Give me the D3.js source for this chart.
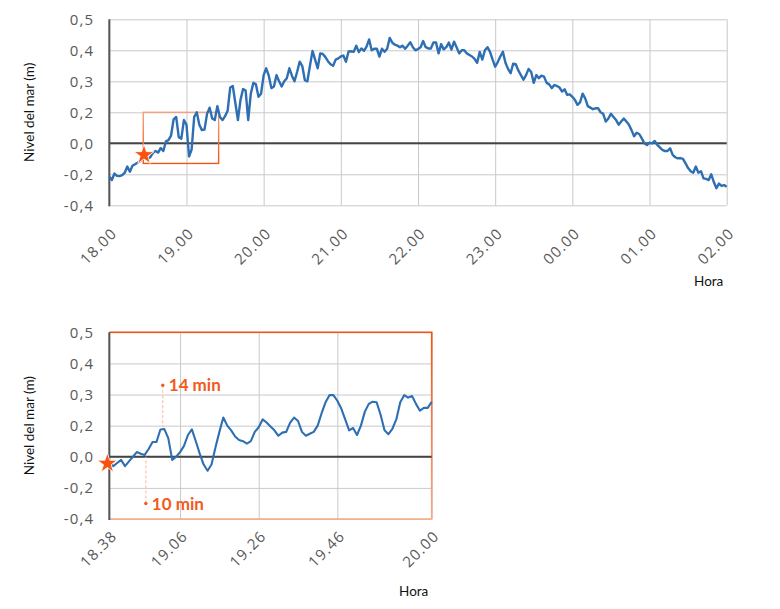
<!DOCTYPE html>
<html>
<head>
<meta charset="utf-8">
<script src="https://cdn.jsdelivr.net/npm/d3@7"></script>
<style>
  body { margin: 0; background: #fff; }
  svg { display: block; font-family: Lato, "Open Sans", sans-serif; }
  .grid line { stroke: #c9c9c9; stroke-width: 1; }
  .grid path { display: none; }
  .ylab text, .xlab text { font-family: "Open Sans", Lato, sans-serif; font-size: 15px; fill: #595959; letter-spacing: 1.2px; }
  .title { font-size: 13.5px; fill: #111; }
  .note { font-size: 17px; font-weight: 700; fill: #f25a1a; }
</style>
</head>
<body>
<svg id="chart" width="780" height="609"></svg>
<script>
// nivel del mar cada 2 minutos desde las 18.00 (gráfico general)
const topLevel = [
  -0.215, -0.237, -0.195, -0.21, -0.212, -0.205, -0.19, -0.15, -0.183, -0.145,
  -0.135, -0.125, -0.114, -0.09, -0.08, -0.10, -0.088, -0.06, -0.05,
  -0.06, -0.03, -0.05, 0.012, 0.02, 0.05, 0.155, 0.17, 0.04, 0.03,
  0.15, 0.12, -0.085, -0.04, 0.17, 0.2, 0.12, 0.085, 0.088, 0.19,
  0.215, 0.16, 0.15, 0.22, 0.17, 0.15, 0.175, 0.205, 0.28, 0.285,
  0.23, 0.15, 0.24, 0.275, 0.27, 0.15, 0.26, 0.295, 0.29, 0.25, 0.26, 0.32,
  0.342, 0.318, 0.278, 0.283, 0.32, 0.30, 0.283, 0.30, 0.31, 0.342,
  0.318, 0.30, 0.33, 0.363, 0.35, 0.304, 0.30, 0.35, 0.398, 0.37,
  0.342, 0.39, 0.388, 0.378, 0.365, 0.355, 0.35, 0.37, 0.374, 0.38,
  0.383, 0.363, 0.396, 0.397, 0.395, 0.415, 0.394, 0.406, 0.398, 0.412,
  0.435, 0.40, 0.405, 0.405, 0.38, 0.405, 0.395, 0.405, 0.44, 0.425,
  0.418, 0.415, 0.41, 0.415, 0.405, 0.415, 0.426, 0.41, 0.40, 0.404,
  0.41, 0.43, 0.41, 0.406, 0.406, 0.425, 0.425, 0.39, 0.42, 0.403,
  0.41, 0.425, 0.402, 0.428, 0.41, 0.39, 0.40, 0.40, 0.39, 0.385,
  0.38, 0.372, 0.36, 0.395, 0.37, 0.40, 0.41, 0.395, 0.37, 0.347,
  0.362, 0.38, 0.395, 0.36, 0.34, 0.326, 0.357, 0.355, 0.335, 0.32,
  0.305, 0.32, 0.34, 0.33, 0.295, 0.32, 0.31, 0.318, 0.315, 0.295,
  0.29, 0.278, 0.288, 0.285, 0.28, 0.267, 0.274, 0.256, 0.258, 0.25,
  0.24, 0.224, 0.232, 0.26, 0.245, 0.22, 0.215, 0.21, 0.213, 0.213,
  0.2, 0.19, 0.14, 0.16, 0.19, 0.17, 0.15, 0.12, 0.14, 0.16,
  0.14, 0.12, 0.085, 0.045, 0.068, 0.06, 0.032, 0.0, -0.011, 0.004,
  0.0, 0.015, -0.01, -0.026, -0.043, -0.05, -0.05, -0.032, -0.075, -0.09,
  -0.097, -0.095, -0.1, -0.13, -0.16, -0.18, -0.19, -0.15, -0.19, -0.18,
  -0.226, -0.23, -0.237, -0.2, -0.25, -0.29, -0.26, -0.275, -0.27, -0.28
];
const topStep = 2; // minutos entre muestras
const topTickLabels = ["18.00", "19.00", "20.00", "21.00", "22.00", "23.00", "00.00", "01.00", "02.00"];

// detalle, una muestra por minuto
const zoomLevel = [
  -0.04, -0.06, -0.04, -0.02, -0.06, -0.03, 0.0, 0.03, 0.02, 0.012,
  0.05, 0.095, 0.095, 0.175, 0.178, 0.12, -0.02, 0.0, 0.03, 0.07,
  0.14, 0.176, 0.1, 0.02, -0.05, -0.09, -0.05, 0.06, 0.16, 0.226,
  0.2, 0.17, 0.13, 0.108, 0.1, 0.085, 0.1, 0.16, 0.19, 0.22,
  0.21, 0.195, 0.17, 0.135, 0.155, 0.16, 0.21, 0.226, 0.215, 0.16,
  0.135, 0.148, 0.16, 0.2, 0.24, 0.275, 0.298, 0.298, 0.28, 0.255,
  0.22, 0.17, 0.185, 0.14, 0.2, 0.245, 0.27, 0.277, 0.275, 0.235,
  0.17, 0.145, 0.18, 0.22, 0.275, 0.298, 0.29, 0.295, 0.27, 0.248,
  0.257, 0.257, 0.277
];
const zoomTickIdx = [0, 18, 38, 58, 82];
const zoomTickLabels = ["18.38", "19.06", "19.26", "19.46", "20.00"];

// las marcas del eje Y no son equidistantes en valor
const yTicks = [-0.4, -0.2, 0, 0.2, 0.3, 0.4, 0.5];

// anotaciones
const eventMin = 27, eventLevel = -0.075;
const boxMin = [26.4, 85], boxLevel = [-0.13, 0.2];
const notes = [
  { label: "14 min", idx: 13.6, dot: 0.33, to: 0.19 },
  { label: "10 min", idx: 9.3, dot: -0.3, to: 0.0 }
];

const fmt = d3.formatLocale({ decimal: ",", thousands: ".", grouping: [3], currency: ["", "€"], minus: "-" }).format(".1f");
const BLUE = "#2e6fb3", ORANGE = "#f7520f";

const svg = d3.select("#chart");
const defs = svg.append("defs");
function grad(id, c1, c2) {
  const g = defs.append("linearGradient").attr("id", id).attr("x1", 0).attr("y1", 0).attr("x2", 0).attr("y2", 1);
  g.append("stop").attr("offset", "0%").attr("stop-color", c1);
  g.append("stop").attr("offset", "100%").attr("stop-color", c2);
}
grad("boxGrad", "#f8a07a", "#f25616");
grad("frameGrad", "#f4500f", "#f9a985");

function yScale(top, bottom) {
  const n = yTicks.length - 1;
  return d3.scaleLinear().domain(yTicks).range(yTicks.map((_, i) => bottom - i * (bottom - top) / n));
}

// dibuja rejilla, ejes, títulos
function frame(g, x, y, xTicks, xLabels, labOff, horaY) {
  const [x0, x1] = x.range();
  const [yb, yt] = [y.range()[0], y.range()[y.range().length - 1]];

  g.append("g").attr("class", "grid")
    .attr("transform", `translate(0,${yb})`)
    .call(d3.axisBottom(x).tickValues(xTicks).tickSize(-(yb - yt)).tickFormat(""));
  g.append("g").attr("class", "grid")
    .attr("transform", `translate(${x0},0)`)
    .call(d3.axisLeft(y).tickValues(yTicks).tickSize(-(x1 - x0)).tickFormat(""));

  const yl = g.append("g").attr("class", "ylab")
    .attr("transform", `translate(${x0},0)`)
    .call(d3.axisLeft(y).tickValues(yTicks).tickSize(0).tickPadding(15).tickFormat(fmt));
  yl.select(".domain").remove();

  const xl = g.append("g").attr("class", "xlab")
    .attr("transform", `translate(0,${yb})`)
    .call(d3.axisBottom(x).tickValues(xTicks).tickSize(0).tickFormat((d, i) => xLabels[i]));
  xl.select(".domain").remove();
  xl.selectAll("text")
    .attr("x", 0).attr("y", 0).attr("dy", 0)
    .attr("text-anchor", "end")
    .attr("transform", `translate(${labOff[0]},${labOff[1]}) rotate(-45)`);

  g.append("text").attr("class", "title")
    .attr("transform", `translate(34,${(yt + yb) / 2}) rotate(-90)`)
    .attr("text-anchor", "middle")
    .text("Nivel del mar (m)");
  g.append("text").attr("class", "title")
    .attr("x", x1 - 18).attr("y", horaY)
    .attr("text-anchor", "middle")
    .text("Hora");
}

function axesLines(g, x, y) {
  const [x0, x1] = x.range();
  const [yb, yt] = [y.range()[0], y.range()[y.range().length - 1]];
  g.append("line").attr("x1", x0).attr("x2", x1).attr("y1", y(0)).attr("y2", y(0))
    .attr("stroke", "#444").attr("stroke-width", 2);
  g.append("line").attr("x1", x0).attr("x2", x0).attr("y1", yt).attr("y2", yb + 1)
    .attr("stroke", "#555").attr("stroke-width", 2);
}

function star(g, cx, cy) {
  g.append("path")
    .attr("d", d3.symbol().type(d3.symbolStar).size(125)())
    .attr("transform", `translate(${cx},${cy})`)
    .attr("fill", ORANGE).attr("stroke", "#fff").attr("stroke-width", 0.8);
}

// ===== gráfico general
const gTop = svg.append("g");
const xT = d3.scaleLinear().domain([0, (topTickLabels.length - 1) * 60]).range([109.3, 726.7]);
const yT = yScale(19.3, 205.3);
frame(gTop, xT, yT, topTickLabels.map((_, i) => i * 60), topTickLabels, [8, 29], 286);
axesLines(gTop, xT, yT);

gTop.append("rect")
  .attr("x", xT(boxMin[0])).attr("y", yT(boxLevel[1]))
  .attr("width", xT(boxMin[1]) - xT(boxMin[0]))
  .attr("height", yT(boxLevel[0]) - yT(boxLevel[1]))
  .attr("fill", "none").attr("stroke", "url(#boxGrad)").attr("stroke-width", 1.4);

gTop.append("path")
  .datum(topLevel)
  .attr("fill", "none").attr("stroke", BLUE).attr("stroke-width", 2.4)
  .attr("stroke-linejoin", "round")
  .attr("d", d3.line().x((d, i) => xT(i * topStep)).y(d => yT(d)));

star(gTop, xT(eventMin), yT(eventLevel));

// ===== detalle
const gBot = svg.append("g");
const xB = d3.scaleLinear().domain([0, zoomLevel.length - 1]).range([109.3, 431.7]);
const yB = yScale(332.3, 519);
frame(gBot, xB, yB, zoomTickIdx, zoomTickLabels, [8, 18], 596);

// marco naranja (arriba, derecha, abajo)
gBot.append("path")
  .attr("d", `M${xB.range()[0]},${yB(0.5)}H${xB.range()[1]}V${yB(-0.4)}H${xB.range()[0]}`)
  .attr("fill", "none").attr("stroke", "url(#frameGrad)").attr("stroke-width", 1.6);
axesLines(gBot, xB, yB);

notes.forEach(n => {
  gBot.append("line")
    .attr("x1", xB(n.idx)).attr("x2", xB(n.idx))
    .attr("y1", yB(n.dot)).attr("y2", yB(n.to))
    .attr("stroke", "#f9b79c").attr("stroke-width", 1).attr("stroke-dasharray", "3,2");
});

gBot.append("path")
  .datum(zoomLevel)
  .attr("fill", "none").attr("stroke", BLUE).attr("stroke-width", 2.1)
  .attr("stroke-linejoin", "round")
  .attr("d", d3.line().x((d, i) => xB(i)).y(d => yB(d)));

notes.forEach(n => {
  gBot.append("circle").attr("cx", xB(n.idx)).attr("cy", yB(n.dot)).attr("r", 1.7).attr("fill", "#f25a1a");
  gBot.append("text").attr("class", "note")
    .attr("x", xB(n.idx) + 6).attr("y", yB(n.dot))
    .attr("dy", "0.36em")
    .text(n.label);
});

star(gBot, xB(-0.5), yB(zoomLevel[0]) + 0.5);
</script>
</body>
</html>
